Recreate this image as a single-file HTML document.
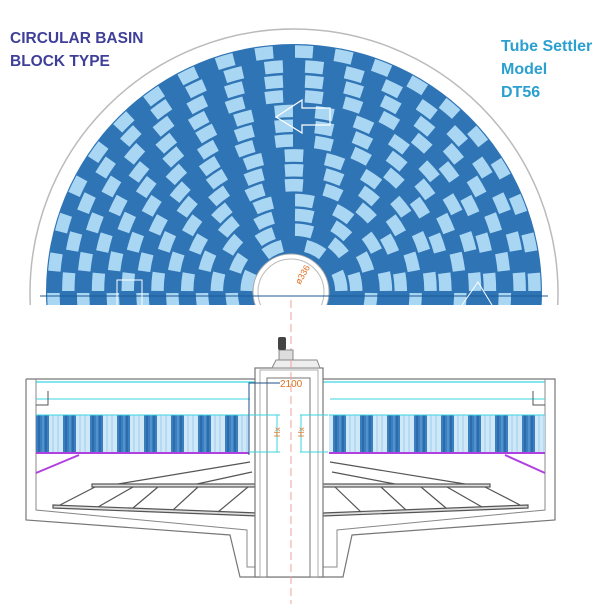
<!DOCTYPE html>
<html><head><meta charset="utf-8"><style>
html,body{margin:0;padding:0;background:#fff;width:614px;height:604px;overflow:hidden}
svg{position:absolute;left:0;top:0}
.t{font-family:"Liberation Sans",sans-serif;font-weight:bold;position:absolute;font-size:15.5px;line-height:23px}
</style></head><body>
<svg id="s" width="614" height="604" viewBox="0 0 614 604">
<defs>
<pattern id="tube" x="36" y="0" width="27" height="40" patternUnits="userSpaceOnUse">
<rect width="27" height="40" fill="#cfe8f8"/>
<rect x="0" width="13" height="40" fill="#3a7fc0"/>
<line x1="3" y1="0" x2="3" y2="40" stroke="#1e5a95" stroke-width="1"/>
<line x1="7" y1="0" x2="7" y2="40" stroke="#6ba6dc" stroke-width="1"/>
<line x1="10" y1="0" x2="10" y2="40" stroke="#1e5a95" stroke-width="1"/>
<line x1="17" y1="0" x2="17" y2="40" stroke="#9ccbef" stroke-width="1"/>
<line x1="22" y1="0" x2="22" y2="40" stroke="#9ccbef" stroke-width="1"/>
</pattern>
<clipPath id="cut"><rect x="0" y="0" width="614" height="305"/></clipPath>
</defs>
<g clip-path="url(#cut)">
<circle cx="294" cy="293" r="264" fill="none" stroke="#bbb" stroke-width="1.5"/>
<g id="chk"></g>
<circle cx="291" cy="292" r="38" fill="#fff" stroke="#aaa" stroke-width="1"/>
<circle cx="291" cy="292" r="33" fill="none" stroke="#bbb" stroke-width="1"/>
<line x1="40" y1="296" x2="548" y2="296" stroke="#1e5a95" stroke-width="1"/>
<rect x="117" y="280" width="25" height="30" fill="none" stroke="#fff" stroke-width="1"/>
<polyline points="462,305 478,282 492,305" fill="none" stroke="#fff" stroke-width="1"/>
<polygon points="276,117 302,100 302,108 330,108 330,125 302,125 302,133" fill="none" stroke="#fff" stroke-width="1.2"/>
<text x="300" y="285" transform="rotate(-60 300 285)" font-family="Liberation Sans,sans-serif" font-size="9" fill="#e07020">ø336</text>
</g>
<line x1="291" y1="300" x2="291" y2="604" stroke="#f0a0a0" stroke-width="1" stroke-dasharray="8,4"/>
<polyline points="26,379 26,520 230,535 240,577 343,577 352,535 555,520 555,379 26,379" fill="none" stroke="#777" stroke-width="1.2"/>
<polyline points="36,379 36,510 247,530 247,567 337,567 337,530 545,510 545,379" fill="none" stroke="#888" stroke-width="1"/>
<line x1="36" y1="382" x2="545" y2="382" stroke="#3ad6e0" stroke-width="1.2"/>
<line x1="36" y1="399" x2="250" y2="399" stroke="#3ad6e0" stroke-width="1"/>
<line x1="330" y1="399" x2="545" y2="399" stroke="#3ad6e0" stroke-width="1"/>
<polyline points="36,405 48,405 48,391" fill="none" stroke="#555" stroke-width="1"/>
<polyline points="545,405 533,405 533,391" fill="none" stroke="#555" stroke-width="1"/>
<rect x="36" y="415" width="213" height="37" fill="url(#tube)"/>
<rect x="329" y="415" width="216" height="37" fill="url(#tube)"/>
<line x1="36" y1="415" x2="249" y2="415" stroke="#3ad6e0"/>
<line x1="329" y1="415" x2="545" y2="415" stroke="#3ad6e0"/>
<line x1="36" y1="453" x2="249" y2="453" stroke="#b040e0" stroke-width="2"/>
<line x1="329" y1="453" x2="545" y2="453" stroke="#b040e0" stroke-width="2"/>
<line x1="36" y1="473" x2="79" y2="455" stroke="#b040e0" stroke-width="2"/>
<line x1="505" y1="455" x2="545" y2="473" stroke="#b040e0" stroke-width="2"/>
<g stroke="#555" stroke-width="1.2" fill="none">
<line x1="250" y1="462" x2="118" y2="484"/>
<line x1="252" y1="472" x2="197" y2="484"/>
<rect x="92" y="484" width="168" height="3" fill="#ddd"/>
<polygon points="53,505 258,513 258,516 53,508" fill="#ddd"/>
<line x1="60" y1="505" x2="95" y2="487"/>
<line x1="98" y1="507" x2="133" y2="487"/>
<line x1="133" y1="508" x2="158" y2="487"/>
<line x1="173" y1="510" x2="198" y2="487"/>
<line x1="218" y1="512" x2="248" y2="487"/>
<line x1="330" y1="462" x2="465" y2="484"/>
<line x1="332" y1="472" x2="395" y2="484"/>
<rect x="322" y="484" width="168" height="3" fill="#ddd"/>
<polygon points="528,505 323,513 323,516 528,508" fill="#ddd"/>
<line x1="520" y1="505" x2="485" y2="487"/>
<line x1="482" y1="507" x2="447" y2="487"/>
<line x1="446" y1="508" x2="421" y2="487"/>
<line x1="406" y1="510" x2="381" y2="487"/>
<line x1="361" y1="512" x2="335" y2="487"/>
</g>
<rect x="255" y="368" width="68" height="209" fill="#fff" stroke="#777" stroke-width="1.2"/>
<rect x="260" y="370" width="58" height="207" fill="none" stroke="#999" stroke-width="0.8"/>
<rect x="267" y="378" width="43" height="199" fill="none" stroke="#777" stroke-width="1"/>
<polygon points="272,368 276,360 317,360 320,368" fill="#eee" stroke="#888"/>
<rect x="279" y="350" width="14" height="10" fill="#ddd" stroke="#888"/>
<rect x="278" y="337" width="8" height="13" rx="2" fill="#444"/>
<line x1="291" y1="360" x2="291" y2="604" stroke="#f0a0a0" stroke-width="1" stroke-dasharray="8,4"/>
<polyline points="249,455 249,383 280,383" fill="none" stroke="#1e4f85" stroke-width="1"/>
<text x="280" y="387" font-family="Liberation Sans,sans-serif" font-size="10" fill="#e07020">2100</text>
<g stroke="#3ad6e0" stroke-width="1">
<line x1="250" y1="415" x2="280" y2="415"/><line x1="250" y1="452" x2="280" y2="452"/>
<line x1="300" y1="415" x2="328" y2="415"/><line x1="300" y1="452" x2="328" y2="452"/>
<line x1="277" y1="415" x2="277" y2="452"/><line x1="301" y1="415" x2="301" y2="452"/>
</g>
<text x="280" y="437" transform="rotate(-90 280 437)" font-family="Liberation Sans,sans-serif" font-size="8" fill="#e07020">Hx</text>
<text x="304" y="437" transform="rotate(-90 304 437)" font-family="Liberation Sans,sans-serif" font-size="8" fill="#e07020">Hx</text>
</svg>
<div class="t" style="left:10px;top:27px;color:#3f3f99">CIRCULAR BASIN<br>BLOCK TYPE</div>
<div class="t" style="left:501px;top:35px;color:#2aa0d0;font-size:16px">Tube Settler<br>Model<br>DT56</div>
<script>
(function(){
var g=document.getElementById('chk'),cx=294,cy=292,r0=40,r1=248,N=14,h=(r1-r0)/N,s='';
s+='<circle cx="'+cx+'" cy="'+cy+'" r="'+r1+'" fill="#2f74b5"/>';
for(var i=0;i<N;i++){
 var ra=r0+i*h,rb=ra+h,rm=(ra+rb)/2;
 var n=Math.max(6,Math.round(Math.PI*rm/20));
 var da=Math.PI/n;
 for(var k=-1;k<=n;k++){
  if((((k+i)%2)+2)%2!==0)continue;
  var a0=Math.PI+k*da,a1=a0+da;
  var m=0.05*da, ri=ra+1.2, ro=rb-1.2;
  var b0=a0+m,b1=a1-m;
  var p=[[ri,b0],[ro,b0],[ro,b1],[ri,b1]].map(function(q){return (cx+q[0]*Math.cos(q[1])).toFixed(1)+','+(cy+q[0]*Math.sin(q[1])).toFixed(1)});
  s+='<path d="M'+p[0]+' L'+p[1]+' A'+ro+' '+ro+' 0 0 1 '+p[2]+' L'+p[3]+' A'+ri+' '+ri+' 0 0 0 '+p[0]+'Z" fill="#a9d6f3"/>';
 }
}
g.innerHTML=s;
})();
</script>
</body></html>
